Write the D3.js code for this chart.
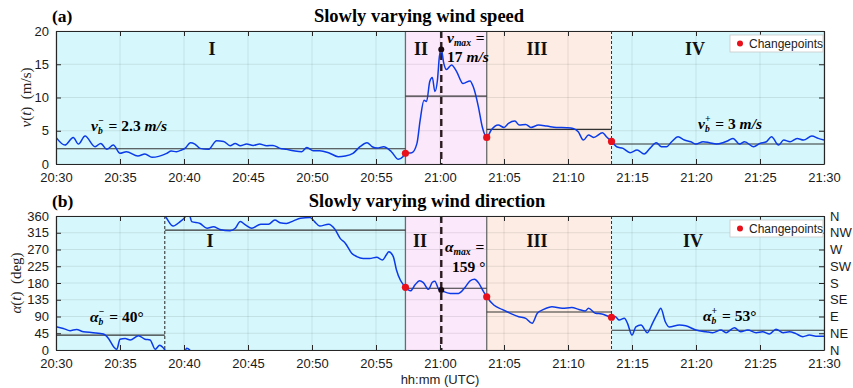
<!DOCTYPE html>
<html>
<head>
<meta charset="utf-8">
<script src="https://cdn.jsdelivr.net/npm/d3@7"></script>
<style>
body { margin: 0; background: #fff; }
svg { display: block; font-family: "Liberation Sans", Arial, sans-serif; }
</style>
</head>
<body>
<div id="chart"></div>
<script>
// time is in minutes after 20:30 UTC
const xTickLabels = ["20:30","20:35","20:40","20:45","20:50","20:55","21:00","21:05","21:10","21:15","21:20","21:25","21:30"];
const speedTicks = [0, 5, 10, 15, 20];
const dirTicks = [0, 45, 90, 135, 180, 225, 270, 315, 360];
const compassLabels = ["N","NE","E","SE","S","SW","W","NW","N"];

const regionNames = ["I", "II", "III", "IV"];
const regionBounds = [0, 27.3, 33.65, 43.4, 60];
const regionColors = ["#d6f8fc", "#fbe8fb", "#fcece3", "#d6f8fc"];
const changepoints = [27.3, 33.65, 43.4];

const speedMeans = [2.3, 10.2, 5.2, 3.0];
// [from, to, mean] for the direction panel
const dirMeans = [[0, 8.5, 40], [8.5, 27.3, 322], [27.3, 33.65, 166], [33.65, 43.4, 102], [43.4, 60, 53]];

const speedPeak = [30.1, 17.2];
const dirPeak = [30.1, 161];

// [minute, m/s]
const speedReadings = [
  [0,4.0],[0.7,2.85],[1.35,4.0],[1.75,3.0],[2.27,4.2],[3.05,2.6],[3.5,3.1],[3.96,2.2],[4.48,2.85],[5.0,1.6],
  [5.5,1.85],[6.4,1.2],[6.95,1.5],[7.5,1.0],[8.65,1.6],[9.0,1.95],[9.4,1.85],[9.8,2.1],[10.1,2.4],[10.5,3.2],
  [10.85,3.0],[11.25,2.35],[11.9,2.2],[12.55,3.5],[13.1,3.4],[13.6,2.75],[14.0,3.1],[14.4,2.75],[14.9,3.0],[15.4,2.8],
  [15.9,3.0],[16.45,2.75],[16.95,2.8],[17.5,2.35],[18.0,2.2],[18.55,2.0],[19.2,1.85],[19.6,2.5],[20.1,2.0],[20.6,2.0],
  [21.3,1.7],[22.05,1.1],[22.6,1.2],[23.2,1.6],[23.75,2.6],[24.3,3.2],[24.7,2.6],[25.1,2.4],[25.6,2.6],[26.2,1.85],
  [26.75,0.7],[27.1,1.1],[27.3,1.6],
  [27.8,1.7],[28.2,3.1],[28.45,6.6],[28.75,9.6],[28.95,9.4],[29.2,12.4],[29.4,13.0],[29.6,10.9],[29.8,12.6],[29.95,16.1],
  [30.1,17.2],[30.3,15.1],[30.5,14.2],[30.9,14.9],[31.3,13.9],[31.8,12.1],[32.35,12.5],[32.6,11.6],[33.0,8.6],[33.3,5.6],
  [33.65,4.0],
  [34.0,5.1],[34.55,5.85],[35.0,5.5],[35.35,6.1],[35.85,6.45],[36.2,5.85],[36.7,5.95],[37.1,5.5],[37.7,5.85],[38.35,5.7],
  [39.1,5.5],[39.9,5.45],[40.4,5.35],[40.8,4.85],[41.2,3.6],[41.6,4.35],[42.0,4.0],[42.7,4.7],[43.0,4.1],[43.4,3.4],
  [43.8,2.6],[44.3,2.35],[44.85,1.7],[45.4,2.1],[45.95,1.5],[46.4,2.35],[46.9,3.2],[47.3,2.6],[47.7,2.6],[48.1,3.35],
  [48.6,4.1],[49.1,3.6],[49.6,3.35],[50.0,3.0],[50.55,3.35],[51.05,3.2],[51.6,3.0],[52.1,3.2],[52.5,3.5],[52.9,3.85],
  [53.4,3.0],[53.8,3.35],[54.5,2.6],[55.0,3.1],[55.5,3.35],[55.9,4.1],[56.45,2.85],[56.85,3.6],[57.35,3.35],[57.9,3.85],
  [58.4,3.6],[59.05,4.2],[59.55,3.85],[60,3.6]
];

// [minute, degrees] as shown on the 0..360 axis (wraps through north)
const dirReadings = [
  [0,62.7],[0.57,58],[1.1,52],[1.6,55],[2.15,49],[2.9,46.6],[3.7,43],[4.1,31],[4.5,9],[4.75,2],
  [5.0,29],[5.4,31],[5.8,27],[6.45,38.5],[6.95,29],[7.35,27],[7.75,2],[8.1,13],[8.4,5],[8.5,0.5],
  [8.6,356],[9.15,333],[9.7,345],[10.1,358],[10.2,4.5],[10.45,0],[10.6,345],[11.25,340],[11.8,327],[12.3,331],
  [12.8,324],[13.6,320.5],[14.0,327],[14.4,345],[14.8,336],[15.3,327],[16.0,338],[16.6,338],[17.1,349],[17.5,342],
  [18.0,340],[18.55,347],[19.1,354],[19.85,356],[20.2,345],[20.6,333],[21.3,338],[21.8,324],[22.2,300],[22.6,287],
  [23.1,260],[23.5,251],[24.0,246],[24.5,246],[25.05,249],[25.5,242],[25.8,255],[26.0,264],[26.35,251],[26.6,215],
  [26.9,188],[27.15,175],[27.3,168.5],
  [27.7,159],[28.05,175],[28.4,186],[28.7,181],[29.1,163],[29.4,182],[29.6,185],[29.9,163],[30.1,160],[30.8,152],
  [31.45,152],[31.95,168],[32.35,186],[32.7,190],[33.0,181],[33.4,157],[33.65,143],
  [34.2,121],[34.85,109],[35.5,98.5],[36.15,89.5],[36.7,85],[37.2,71.6],[37.6,98.5],[38.1,109],[38.75,116],[39.55,112],
  [40.3,114],[40.85,109],[41.35,105],[41.6,112],[42.15,98.5],[42.65,97],[43.4,88],
  [43.7,89],[44.0,80.6],[44.4,85],[44.65,71.6],[45.0,40],[45.3,62],[45.7,67],[46.2,46.6],[46.6,71.6],[47.0,98.5],
  [47.25,112],[47.6,76],[47.9,62],[48.7,67],[49.2,65],[50.0,53.7],[50.8,49],[51.3,46.6],[51.95,53.7],[52.35,46.6],
  [53.0,60],[53.5,49],[54.05,53.7],[54.7,46.6],[55.2,49],[55.75,43],[56.25,56],[56.8,46.6],[57.3,49],[57.8,44],
  [58.35,35.8],[58.85,40],[59.5,37],[60,37]
];

const width = 853, height = 388;
const plotLeft = 56, plotRight = 824;
const serif = '"Liberation Serif", "Times New Roman", serif';
const lineBlue = "#0b3be8";

const svg = d3.select("#chart").append("svg")
  .attr("width", width)
  .attr("height", height);

const x = d3.scaleLinear().domain([0, 60]).range([plotLeft, plotRight]);

// writes a label with italic variables and stacked sub/superscripts
function mathLabel(g, px, py, parts, size) {
  let cx = px;
  parts.forEach(p => {
    if (p.sub !== undefined || p.sup !== undefined) {
      let w = 0;
      if (p.sup) {
        const t = g.append("text").attr("x", cx).attr("y", py - size * 0.42)
          .style("font-family", serif).style("font-weight", "bold").style("font-style", "italic")
          .style("font-size", (size * 0.62) + "px").text(p.sup);
        w = Math.max(w, t.node().getComputedTextLength());
      }
      if (p.sub) {
        const t = g.append("text").attr("x", cx).attr("y", py + size * 0.2)
          .style("font-family", serif).style("font-weight", "bold").style("font-style", "italic")
          .style("font-size", (size * 0.62) + "px").text(p.sub);
        w = Math.max(w, t.node().getComputedTextLength());
      }
      cx += w + 1;
    } else {
      const t = g.append("text").attr("x", cx).attr("y", py)
        .style("font-family", serif).style("font-weight", "bold")
        .style("font-style", p.it ? "italic" : "normal")
        .style("white-space", "pre")
        .style("font-size", size + "px").text(p.t);
      cx += t.node().getComputedTextLength();
    }
  });
}

function drawPanel(cfg) {
  const g = svg.append("g");
  const y = d3.scaleLinear().domain(cfg.domain).range([cfg.bottom, cfg.top]);
  const h = cfg.bottom - cfg.top;

  // shaded regions
  regionColors.forEach((c, i) => {
    g.append("rect")
      .attr("x", x(regionBounds[i]))
      .attr("y", cfg.top)
      .attr("width", x(regionBounds[i + 1]) - x(regionBounds[i]))
      .attr("height", h)
      .attr("fill", c);
  });

  // grid
  g.append("g").selectAll("line").data(d3.range(0, 61, 5)).enter().append("line")
    .attr("x1", d => x(d)).attr("x2", d => x(d))
    .attr("y1", cfg.top).attr("y2", cfg.bottom)
    .attr("stroke", "#000").attr("stroke-opacity", 0.09);
  g.append("g").selectAll("line").data(cfg.ticks).enter().append("line")
    .attr("x1", plotLeft).attr("x2", plotRight)
    .attr("y1", d => y(d)).attr("y2", d => y(d))
    .attr("stroke", "#000").attr("stroke-opacity", 0.09);

  // region borders
  g.selectAll(".border").data(changepoints).enter().append("line")
    .attr("x1", d => x(d)).attr("x2", d => x(d))
    .attr("y1", cfg.top).attr("y2", cfg.bottom)
    .attr("stroke", (d, i) => i < 2 ? "#6b6b6b" : "#333")
    .attr("stroke-width", (d, i) => i < 2 ? 1.3 : 1)
    .attr("stroke-dasharray", (d, i) => i < 2 ? null : "3,2");

  (cfg.extraDashed || []).forEach(m => {
    g.append("line")
      .attr("x1", x(m)).attr("x2", x(m))
      .attr("y1", cfg.top).attr("y2", cfg.bottom)
      .attr("stroke", "#222").attr("stroke-width", 1).attr("stroke-dasharray", "3,2");
  });

  // peak time marker
  g.append("line")
    .attr("x1", x(cfg.peak[0])).attr("x2", x(cfg.peak[0]))
    .attr("y1", cfg.top).attr("y2", cfg.bottom)
    .attr("stroke", "#2b1a1f").attr("stroke-width", 2.4).attr("stroke-dasharray", "7,4");

  // segment means
  g.selectAll(".mean").data(cfg.means).enter().append("line")
    .attr("x1", d => x(d[0])).attr("x2", d => x(d[1]))
    .attr("y1", d => y(d[2])).attr("y2", d => y(d[2]))
    .attr("stroke", "#333").attr("stroke-width", 1.1);

  // clipped signal line
  const clipId = "clip" + cfg.id;
  svg.append("clipPath").attr("id", clipId).append("rect")
    .attr("x", plotLeft).attr("y", cfg.top).attr("width", plotRight - plotLeft).attr("height", h);

  const line = d3.line().x(d => x(d[0])).y(d => y(d[1])).curve(d3.curveMonotoneX);
  cfg.offsets.forEach(k => {
    g.append("path")
      .datum(cfg.series.map(d => [d[0], d[1] + k]))
      .attr("clip-path", `url(#${clipId})`)
      .attr("fill", "none")
      .attr("stroke", lineBlue)
      .attr("stroke-width", 1.5)
      .attr("d", line);
  });

  // changepoints and peak
  g.selectAll(".cp").data(cfg.cpValues).enter().append("circle")
    .attr("cx", d => x(d[0])).attr("cy", d => y(d[1])).attr("r", 3.6)
    .attr("fill", "#e8101a");
  g.append("circle")
    .attr("cx", x(cfg.peak[0])).attr("cy", y(cfg.peak[1])).attr("r", 3)
    .attr("fill", "#1a0a10");

  // axes
  const axisColor = "#262626";
  const bottomAxis = g.append("g")
    .attr("transform", `translate(0,${cfg.bottom})`)
    .call(d3.axisBottom(x).tickValues(d3.range(0, 61, 5))
      .tickFormat((d, i) => xTickLabels[i]).tickSizeInner(-5).tickSizeOuter(0).tickPadding(9));
  const topAxis = g.append("g")
    .attr("transform", `translate(0,${cfg.top})`)
    .call(d3.axisTop(x).tickValues(d3.range(0, 61, 5)).tickFormat("").tickSizeInner(-5).tickSizeOuter(0));
  const leftAxis = g.append("g")
    .attr("transform", `translate(${plotLeft},0)`)
    .call(d3.axisLeft(y).tickValues(cfg.ticks).tickSizeInner(-5).tickSizeOuter(0).tickPadding(7));
  const rightAxis = g.append("g")
    .attr("transform", `translate(${plotRight},0)`)
    .call(d3.axisRight(y).tickValues(cfg.ticks)
      .tickFormat(cfg.rightLabels ? (d, i) => cfg.rightLabels[i] : "")
      .tickSizeInner(-5).tickSizeOuter(0).tickPadding(6));

  [bottomAxis, topAxis, leftAxis, rightAxis].forEach(a => {
    a.attr("color", axisColor);
    a.select(".domain").attr("stroke-width", 1.2);
    a.selectAll("text").style("font-size", "13px").attr("fill", "#1a1a1a")
      .style("font-family", '"Liberation Sans", Arial, sans-serif');
  });

  // title
  g.append("text")
    .attr("x", 52).attr("y", cfg.top - 9)
    .style("font-family", serif).style("font-weight", "bold").style("font-size", "17.5px")
    .text(cfg.tag);
  g.append("text")
    .attr("x", cfg.titleX).attr("y", cfg.top - 9)
    .attr("text-anchor", "middle")
    .style("font-family", serif).style("font-weight", "bold").style("font-size", "18.5px")
    .text(cfg.title);

  // region numerals
  regionNames.forEach((n, i) => {
    g.append("text")
      .attr("x", cfg.numeralX[i]).attr("y", cfg.numeralY)
      .attr("text-anchor", "middle")
      .style("font-family", serif).style("font-weight", "bold").style("font-size", "18px")
      .attr("fill", "#111")
      .text(n);
  });

  // y label
  const yl = g.append("text")
    .attr("transform", `translate(${cfg.ylabelX},${(cfg.top + cfg.bottom) / 2}) rotate(-90)`)
    .attr("text-anchor", "middle")
    .style("font-family", serif).style("font-size", "15px").attr("fill", "#222");
  yl.append("tspan").style("font-style", "italic").text(cfg.ySymbol);
  yl.append("tspan").text("(");
  yl.append("tspan").style("font-style", "italic").text("t");
  yl.append("tspan").text(")  " + cfg.yUnit).style("white-space", "pre");

  // legend
  const lg = g.append("g").attr("transform", `translate(730,${cfg.top + 4})`);
  lg.append("rect").attr("width", 93).attr("height", 17)
    .attr("fill", "#fff").attr("stroke", "#c8c8c8").attr("stroke-width", 0.8);
  lg.append("circle").attr("cx", 10).attr("cy", 8.5).attr("r", 3).attr("fill", "#e8101a");
  lg.append("text").attr("x", 19).attr("y", 13)
    .style("font-size", "12px").attr("fill", "#222").text("Changepoints");

  cfg.labels.forEach(l => mathLabel(g, l.x, l.y, l.parts, l.size || 15.5));
}

// speed panel
drawPanel({
  id: "a",
  tag: "(a)",
  title: "Slowly varying wind speed",
  titleX: 419,
  top: 31, bottom: 164,
  domain: [0, 20],
  ticks: speedTicks,
  series: speedReadings,
  offsets: [0],
  means: speedMeans.map((m, i) => [regionBounds[i], regionBounds[i + 1], m]),
  cpValues: changepoints.map(c => speedReadings.find(d => d[0] === c)),
  peak: speedPeak,
  numeralX: [212, 421, 537, 695],
  numeralY: 55,
  ySymbol: "v",
  yUnit: "(m/s)",
  ylabelX: 31,
  labels: [
    { x: 91, y: 131, parts: [{ t: "v", it: true }, { sub: "b", sup: "\u2212" }, { t: " = 2.3 " }, { t: "m/s", it: true }] },
    { x: 447, y: 43, parts: [{ t: "v", it: true }, { sub: "max" }, { t: " =" }] },
    { x: 447, y: 62, parts: [{ t: "17 " }, { t: "m/s", it: true }] },
    { x: 698, y: 129, parts: [{ t: "v", it: true }, { sub: "b", sup: "+" }, { t: " = 3 " }, { t: "m/s", it: true }] }
  ]
});

// direction panel; readings are unwrapped so the line leaves through the top/bottom edges
let turn = 0;
const dirUnwrapped = dirReadings.map((d, i) => {
  if (i > 0) {
    const diff = d[1] - dirReadings[i - 1][1];
    if (diff > 180) turn -= 360;
    else if (diff < -180) turn += 360;
  }
  return [d[0], d[1] + turn];
});

drawPanel({
  id: "b",
  tag: "(b)",
  title: "Slowly varying wind direction",
  titleX: 427,
  top: 216, bottom: 350,
  domain: [0, 360],
  ticks: dirTicks,
  rightLabels: compassLabels,
  series: dirUnwrapped,
  offsets: [0, 360],
  means: dirMeans,
  cpValues: changepoints.map(c => dirReadings.find(d => d[0] === c)),
  peak: dirPeak,
  extraDashed: [8.5],
  numeralX: [210, 420, 537, 693],
  numeralY: 247,
  ySymbol: "\u03b1",
  yUnit: "(deg)",
  ylabelX: 21,
  labels: [
    { x: 90, y: 322, parts: [{ t: "\u03b1", it: true }, { sub: "b", sup: "\u2212" }, { t: " = 40\u00b0" }] },
    { x: 445, y: 252, parts: [{ t: "\u03b1", it: true }, { sub: "max" }, { t: " =" }] },
    { x: 452, y: 272, parts: [{ t: "159 \u00b0" }] },
    { x: 703, y: 321, parts: [{ t: "\u03b1", it: true }, { sub: "b", sup: "+" }, { t: " = 53\u00b0" }] }
  ]
});

svg.append("text")
  .attr("x", 440).attr("y", 384)
  .attr("text-anchor", "middle")
  .style("font-size", "13px").attr("fill", "#222")
  .text("hh:mm (UTC)");
</script>
</body>
</html>
